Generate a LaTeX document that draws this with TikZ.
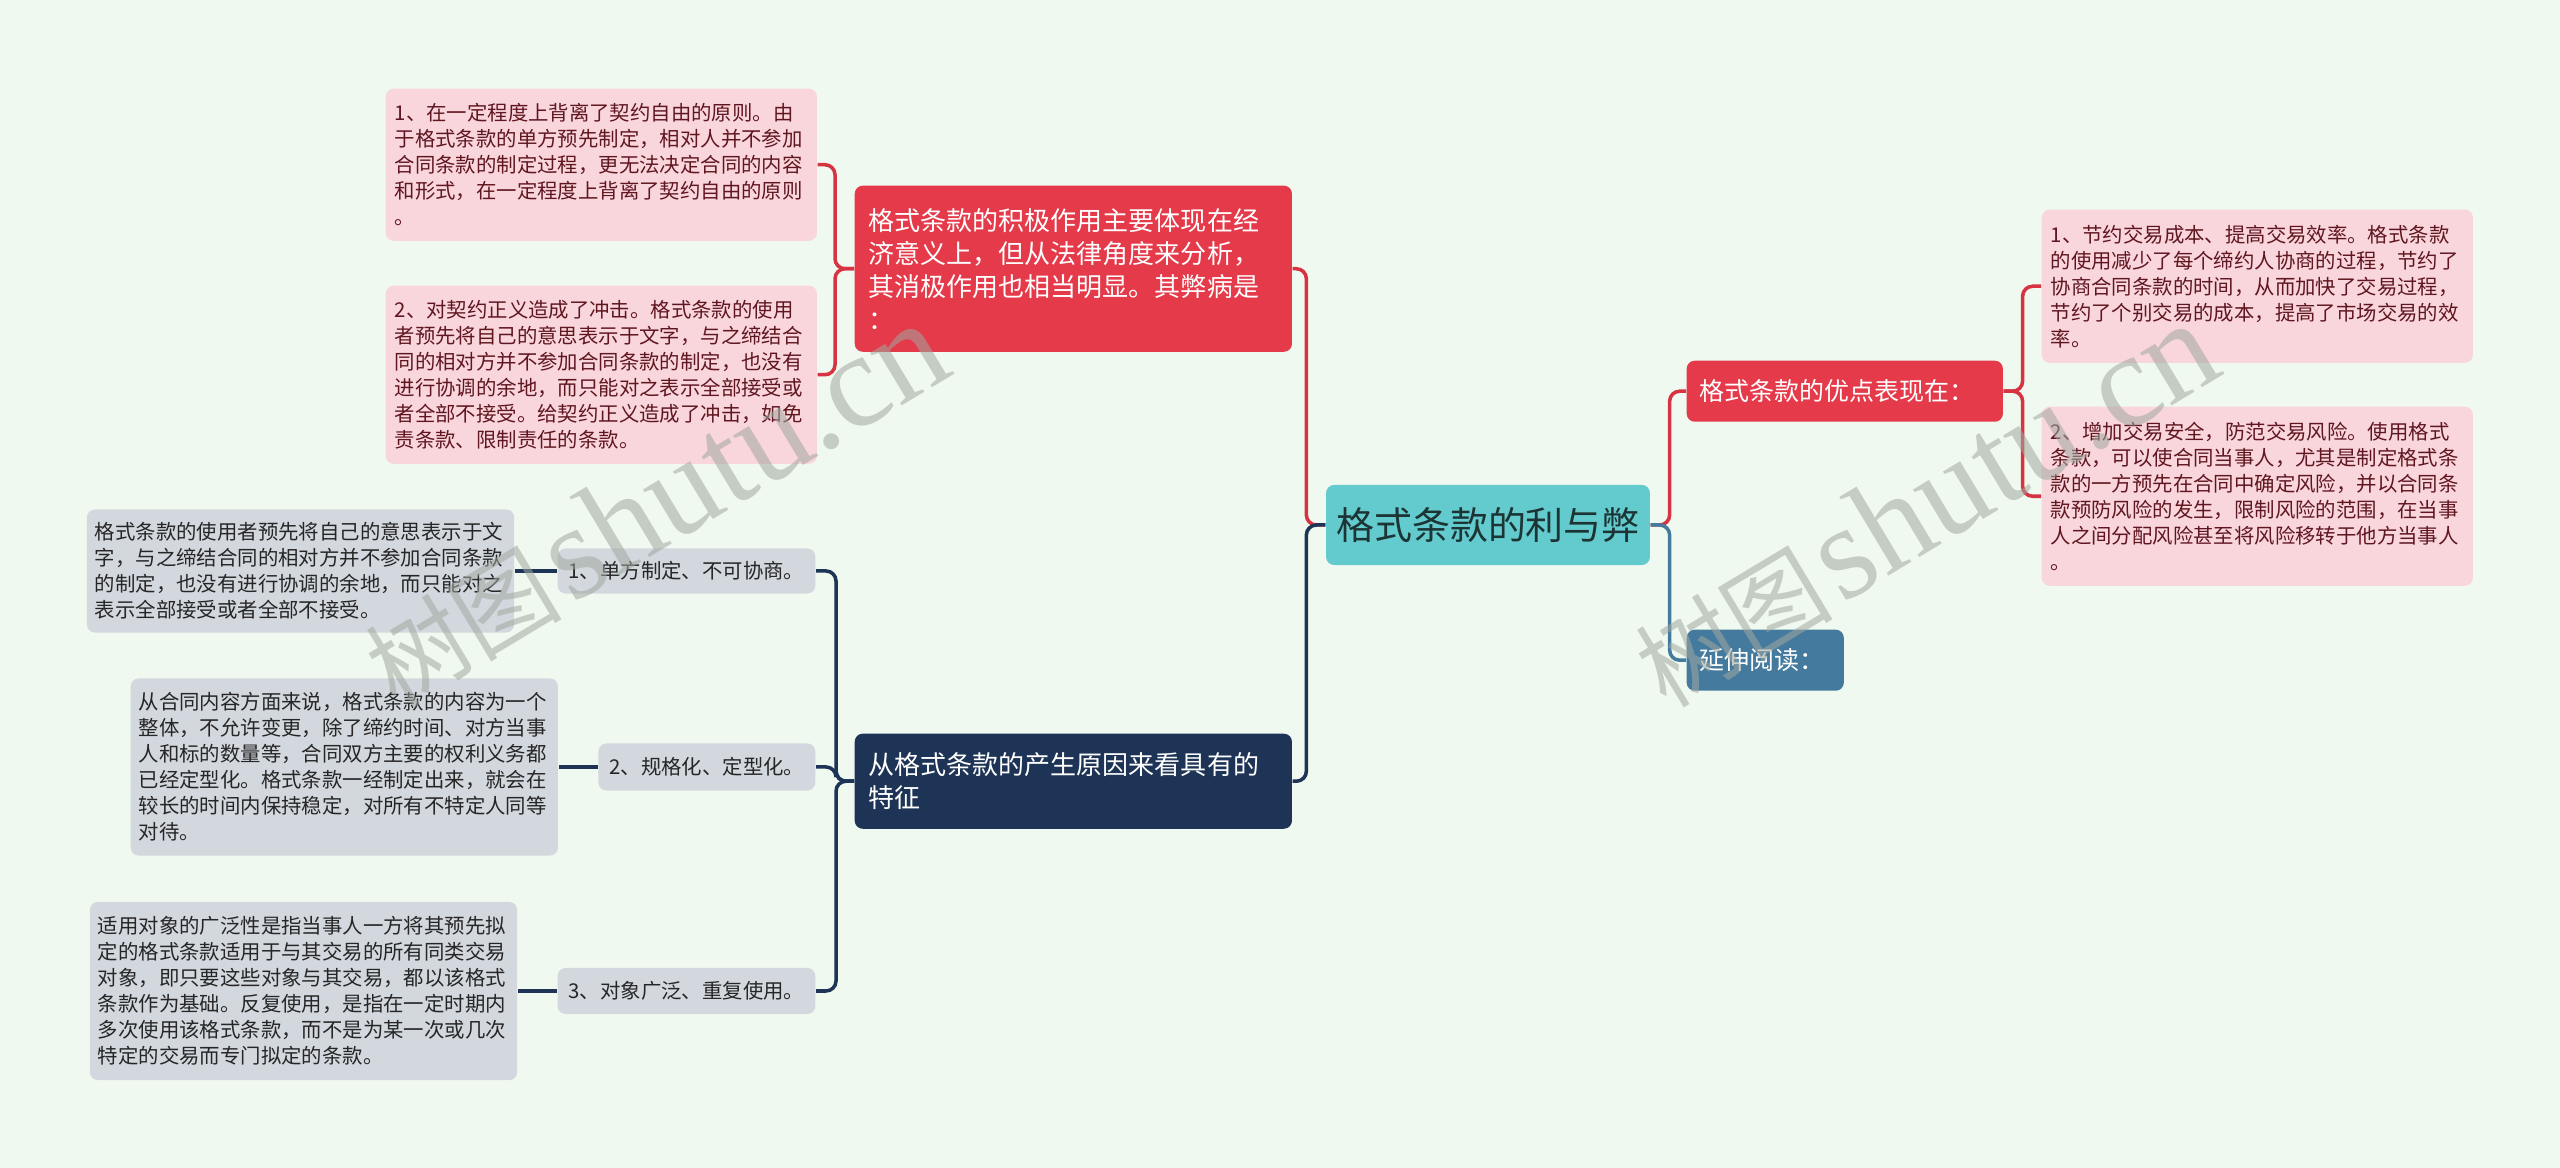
\documentclass[tikz,border=0pt]{standalone}
\usepackage{fontspec}
\setmainfont{Noto Sans CJK SC}
\newfontfamily\wmfont{Liberation Serif}
\usetikzlibrary{positioning}

\definecolor{bgmint}{RGB}{240,249,239}
\definecolor{roottea}{RGB}{99,203,206}
\definecolor{rootink}{RGB}{28,52,52}
\definecolor{redbox}{RGB}{228,58,74}
\definecolor{redline}{RGB}{214,52,66}
\definecolor{pinkbox}{RGB}{249,214,219}
\definecolor{pinkink}{RGB}{96,22,32}
\definecolor{navybox}{RGB}{30,52,86}
\definecolor{graybox}{RGB}{211,215,222}
\definecolor{grayink}{RGB}{38,38,38}
\definecolor{steelbox}{RGB}{68,122,158}
\definecolor{wmgray}{RGB}{160,168,160}

\newcommand\fsroot{\fontsize{10.8pt}{13pt}\selectfont}
\newcommand\fsmain{\fontsize{7.4pt}{9.4pt}\selectfont}
\newcommand\fssub{\fontsize{7.1pt}{9pt}\selectfont}
\newcommand\fsleaf{\fontsize{5.8pt}{7.4pt}\selectfont}

\begin{document}
\begin{tikzpicture}[
    x=0.01cm, y=-0.01cm,
    box/.style={rounded corners=0.08cm, align=left, inner ysep=0.05cm},
    rootbox/.style={box, fill=roottea, text=rootink, font=\fsroot, align=center, inner xsep=0.1cm, minimum width=3.17cm, minimum height=0.8cm},
    mainbox/.style={box, text=white, font=\fsmain, inner xsep=0.14cm, text width=4.09cm, anchor=north west},
    subbox/.style={box, text=white, font=\fssub, inner xsep=0.13cm, minimum height=0.61cm, anchor=north west},
    leaf/.style={box, fill=pinkbox, text=pinkink, font=\fsleaf, inner xsep=0.09cm, text width=4.13cm, anchor=north west},
    note/.style={box, fill=graybox, text=grayink, font=\fsleaf, inner xsep=0.08cm, text width=4.11cm},
    tag/.style={box, fill=graybox, text=grayink, font=\fsleaf, inner xsep=0.11cm, anchor=east},
    link/.style={line width=1pt, rounded corners=0.1cm},
    wmark/.style={text=wmgray, text opacity=0.55, rotate=31, inner sep=0pt}
  ]
  \fill[bgmint] (0,0) rectangle (2560,1168);
  \useasboundingbox (0,0) rectangle (2560,1168);

  \node[rootbox] (root) at (1488,525) {格式条款的利与弊};

  % left: drawbacks
  \node[mainbox, fill=redbox, minimum height=1.66cm] (neg) at (854,185)
    {格式条款的积极作用主要体现在经\\济意义上，但从法律角度来分析，\\其消极作用也相当明显。其弊病是\\：};
  \node[leaf, minimum height=1.52cm] (neg1) at (385,88)
    {1、在一定程度上背离了契约自由的原则。由\\于格式条款的单方预先制定，相对人并不参加\\合同条款的制定过程，更无法决定合同的内容\\和形式，在一定程度上背离了契约自由的原则\\。};
  \node[leaf, minimum height=1.78cm] (neg2) at (385,285)
    {2、对契约正义造成了冲击。格式条款的使用\\者预先将自己的意思表示于文字，与之缔结合\\同的相对方并不参加合同条款的制定，也没有\\进行协调的余地，而只能对之表示全部接受或\\者全部不接受。给契约正义造成了冲击，如免\\责条款、限制责任的条款。};

  % left: features
  \node[mainbox, fill=navybox, minimum height=0.95cm] (feat) at (854,733)
    {从格式条款的产生原因来看具有的\\特征};
  \node[tag, minimum height=0.45cm] (feat1) at (816,571) {1、单方制定、不可协商。};
  \node[tag, minimum height=0.47cm] (feat2) at (816,767) {2、规格化、定型化。};
  \node[tag, minimum height=0.46cm] (feat3) at (816,991) {3、对象广泛、重复使用。};
  \node[note, left=0.42cm of feat1, minimum height=1.23cm] (note1)
    {格式条款的使用者预先将自己的意思表示于文\\字，与之缔结合同的相对方并不参加合同条款\\的制定，也没有进行协调的余地，而只能对之\\表示全部接受或者全部不接受。};
  \node[note, left=0.39cm of feat2, minimum height=1.77cm] (note2)
    {从合同内容方面来说，格式条款的内容为一个\\整体，不允许变更，除了缔约时间、对方当事\\人和标的数量等，合同双方主要的权利义务都\\已经定型化。格式条款一经制定出来，就会在\\较长的时间内保持稳定，对所有不特定人同等\\对待。};
  \node[note, left=0.39cm of feat3, minimum height=1.78cm] (note3)
    {适用对象的广泛性是指当事人一方将其预先拟\\定的格式条款适用于与其交易的所有同类交易\\对象，即只要这些对象与其交易，都以该格式\\条款作为基础。反复使用，是指在一定时期内\\多次使用该格式条款，而不是为某一次或几次\\特定的交易而专门拟定的条款。};

  % right side
  \node[subbox, fill=redbox, text width=2.9cm] (pros) at (1686,360) {格式条款的优点表现在：};
  \node[subbox, fill=steelbox, text width=1.31cm] (more) at (1686,629) {延伸阅读：};
  \node[leaf, minimum height=1.53cm] (pros1) at (2041,209)
    {1、节约交易成本、提高交易效率。格式条款\\的使用减少了每个缔约人协商的过程，节约了\\协商合同条款的时间，从而加快了交易过程，\\节约了个别交易的成本，提高了市场交易的效\\率。};
  \node[leaf, minimum height=1.79cm] (pros2) at (2041,406)
    {2、增加交易安全，防范交易风险。使用格式\\条款，可以使合同当事人，尤其是制定格式条\\款的一方预先在合同中确定风险，并以合同条\\款预防风险的发生，限制风险的范围，在当事\\人之间分配风险甚至将风险移转于他方当事人\\。};

  % connectors
  \draw[link, redline] (root.west) -- ++(-19,0) |- (neg.east);
  \draw[link, navybox] (root.west) -- ++(-19,0) |- (feat.east);
  \draw[link, redline] (neg.west) -- ++(-19,0) |- (neg1.east);
  \draw[link, redline] (neg.west) -- ++(-19,0) |- (neg2.east);
  \foreach \i in {1,2,3} {
    \draw[link, navybox] (feat.west) -- ++(-18,0) |- (feat\i.east);
    \draw[link, navybox] (feat\i.west) -- (note\i.east);
  }
  \draw[link, redline] (root.east) -- ++(19,0) |- (pros.west);
  \draw[link, steelbox] (root.east) -- ++(19,0) |- (more.west);
  \draw[link, redline] (pros.east) -- ++(19,0) |- (pros1.west);
  \draw[link, redline] (pros.east) -- ++(19,0) |- (pros2.west);

  % watermarks
  \node[wmark] (wm1) at (655,505)
    {{\fontsize{28pt}{28pt}\selectfont 树图}\ {\wmfont\fontsize{38pt}{38pt}\selectfont shutu.cn}};
  \node[wmark] (wm2) at (1925,505)
    {{\fontsize{28pt}{28pt}\selectfont 树图}\ {\wmfont\fontsize{38pt}{38pt}\selectfont shutu.cn}};
\end{tikzpicture}
\end{document}
